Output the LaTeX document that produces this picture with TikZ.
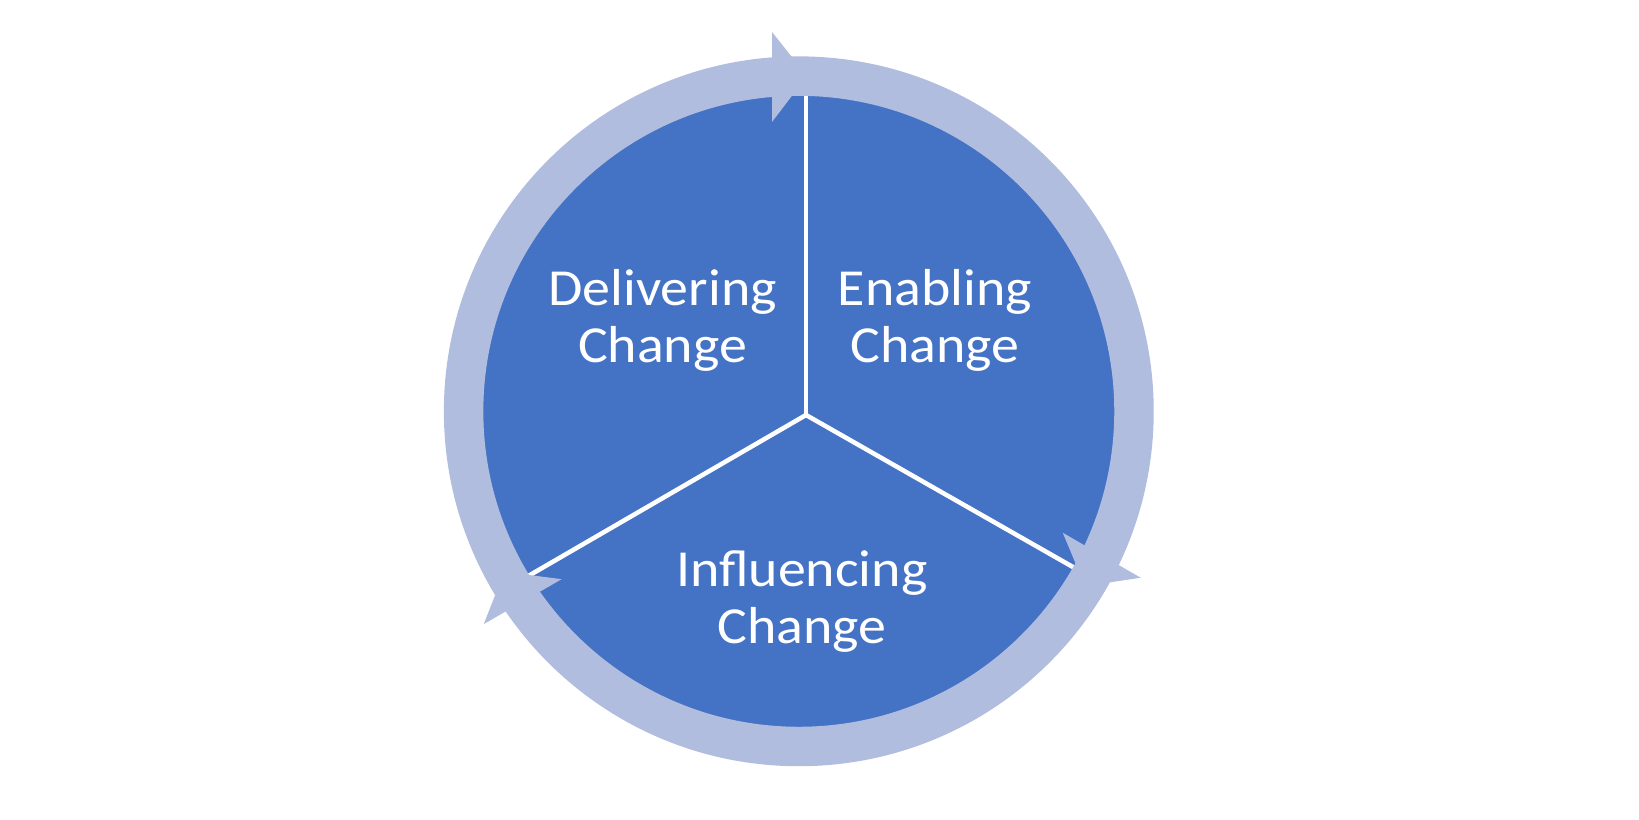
\documentclass[tikz,border=0pt]{standalone}
\usepackage{fontspec}
\setmainfont{Carlito}
\newfontfamily\lblfont[FakeStretch=1.075]{Carlito}
\usetikzlibrary{calc}
\definecolor{pieblue}{RGB}{68,114,196}
\definecolor{ringblue}{RGB}{177,189,222}
\begin{document}
\begin{tikzpicture}[x=0.75pt,y=-0.75pt,
  lbl/.style={text=white, align=center, font=\lblfont\fontsize{39}{42.75}\selectfont, inner sep=0pt, anchor=base},
  divider/.style={draw=white, line width=3.4pt},
  ringband/.style={draw=ringblue, line width=29.6pt},
  arrowhead/.style={fill=ringblue}]
\useasboundingbox (0,0) rectangle (1639,820);
\coordinate (C) at (798.8,411.3);
\coordinate (J) at (806,415);
% pie
\fill[pieblue] (C) circle[radius=316];
% dividers
\coordinate (T) at (806,90);
\coordinate (R) at ($(J)+(29.66:324)$);
\coordinate (L) at ($(J)+(149.9:338)$);
\draw[divider] (J) -- (T);
\draw[divider] (J) -- (R);
\draw[divider] (J) -- (L);
% ring
\draw[ringband] (C) circle[radius=335.2];
% arrowheads
\foreach \k in {0,1,2}{
  \begin{scope}[shift={(C)}, rotate=-120*\k]
    \fill[arrowhead] (-26.8,-379.3) -- (-26.8,-289.3) -- (8.2,-335.3) -- cycle;
  \end{scope}
}
% labels (base anchor = last line)
\node[lbl] (dlv) at (662.5,362) {Delivering\\Change};
\node[lbl] (enb) at (935,362) {Enabling\\Change};
\node[lbl] (inf) at (801.7,643) {Influencing\\Change};
\end{tikzpicture}
\end{document}
